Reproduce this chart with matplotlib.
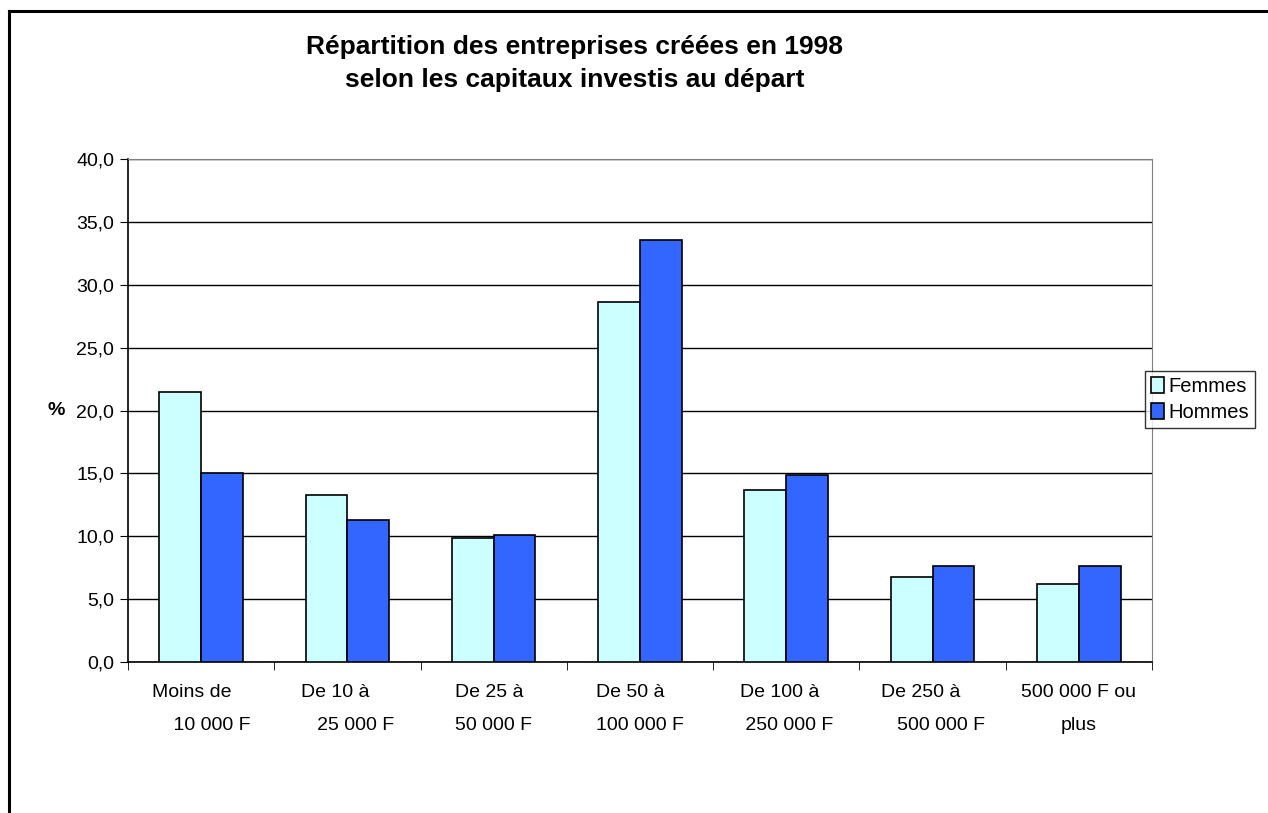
import matplotlib.pyplot as plt
import numpy as np
from matplotlib.lines import Line2D

plt.rcParams['font.family'] = ['Liberation Sans', 'DejaVu Sans']

categories = ["Moins de\n    10 000 F", "De 10 à\n   25 000 F", "De 25 à\n50 000 F",
              "De 50 à\n100 000 F", "De 100 à\n 250 000 F", "De 250 à\n   500 000 F",
              "500 000 F ou\nplus"]
label_align = ["left", "left", "left", "left", "left", "left", "center"]
femmes = [21.5, 13.3, 9.9, 28.6, 13.7, 6.8, 6.2]
hommes = [15.0, 11.3, 10.1, 33.6, 14.9, 7.6, 7.6]
yticks = [0, 5, 10, 15, 20, 25, 30, 35, 40]

fig = plt.figure(figsize=(12.68, 8.13), dpi=100)
ax = fig.add_axes([0.1009, 0.1857, 0.8076, 0.6187])

x = np.arange(len(categories))
w = 0.2857
ax.bar(x - w / 2, femmes, w, color="#CCFFFF", edgecolor="black", linewidth=1.2, zorder=3, label="Femmes")
ax.bar(x + w / 2, hommes, w, color="#3366FF", edgecolor="black", linewidth=1.2, zorder=3, label="Hommes")

ax.set_xlim(-0.5, len(categories) - 0.5)
ax.set_ylim(0, 40)
ax.set_yticks(yticks)
ax.set_yticklabels([f"{v:.1f}".replace(".", ",") for v in yticks], fontsize=14)
ax.yaxis.grid(True, color="black", linewidth=1.0, zorder=0)
ax.set_axisbelow(True)

ax.set_xticks(x)
ax.set_xticklabels(categories, fontsize=14, linespacing=2.25)
for lbl, al in zip(ax.get_xticklabels(), label_align):
    lbl.set_multialignment(al)
ax.tick_params(axis="x", which="major", length=0, pad=16)
ax.set_xticks(np.arange(len(categories) + 1) - 0.5, minor=True)
ax.tick_params(axis="x", which="minor", length=6, direction="out", color="black")
ax.tick_params(axis="y", length=6, direction="out", color="black", pad=4)

for side in ["top", "right"]:
    ax.spines[side].set_color("#808080")
for side in ["left", "bottom"]:
    ax.spines[side].set_color("black")
    ax.spines[side].set_linewidth(1.2)

ax.set_ylabel("%", rotation=0, fontsize=14, fontweight="bold", va="center")
ax.yaxis.set_label_coords(-0.07, 0.5)

fig.text(0.453, 0.922, "Répartition des entreprises créées en 1998\nselon les capitaux investis au départ",
         ha="center", va="center", fontsize=19, fontweight="bold", linespacing=1.5)

fig.legend(loc="upper left", bbox_to_anchor=(0.903, 0.544), fontsize=14.5, frameon=True,
           fancybox=False, edgecolor="black", handlelength=0.65, handleheight=0.85,
           handletextpad=0.2, borderpad=0.3, labelspacing=0.35, borderaxespad=0)

# cadre du graphique (bords gauche et haut)
fig.add_artist(Line2D([9 / 1268, 9 / 1268], [0, 1 - 11 / 813], color="black", linewidth=2.2, transform=fig.transFigure))
fig.add_artist(Line2D([9 / 1268, 1], [1 - 11 / 813, 1 - 11 / 813], color="black", linewidth=2.2, transform=fig.transFigure))

fig.savefig("out.png", dpi=100)
